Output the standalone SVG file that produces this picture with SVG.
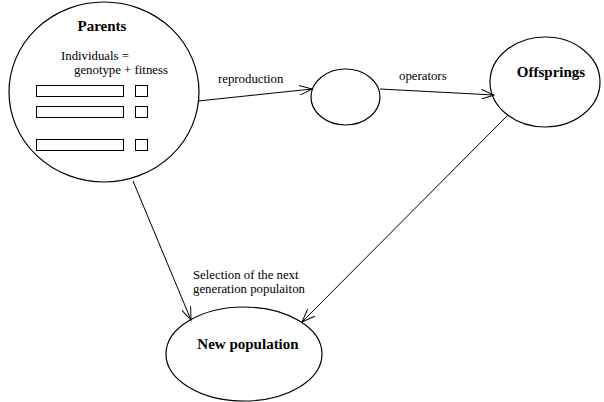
<svg xmlns="http://www.w3.org/2000/svg" width="604" height="402" viewBox="0 0 604 402">
<style>
.n{fill:none;stroke:#000;stroke-width:1.2}
.r{fill:none;stroke:#000;stroke-width:1}
.t{font-family:"Liberation Serif",serif;font-size:12.8px;fill:#000}
.b{font-family:"Liberation Serif",serif;font-size:15px;font-weight:bold;fill:#000}
.c{fill:none;stroke:#000;stroke-width:1}
</style>
<defs>
<marker id="a" viewBox="0 0 14 10" refX="13" refY="5" markerWidth="14" markerHeight="10" markerUnits="userSpaceOnUse" orient="auto">
<path d="M0,0 L13,5 L0,10" fill="none" stroke="#000" stroke-width="1"/>
</marker>
</defs>
<rect width="604" height="402" fill="#fff"/>
<g id="parents">
<ellipse class="n" cx="104" cy="92" rx="95" ry="90"/>
<text class="b" x="102" y="31" text-anchor="middle">Parents</text>
<text class="t" x="61" y="60">Individuals =</text>
<text class="t" x="74" y="74">genotype + fitness</text>
<rect class="r" x="36.5" y="85.5" width="87" height="11"/>
<rect class="r" x="135.5" y="85.5" width="12" height="11"/>
<rect class="r" x="36.5" y="106.5" width="87" height="11"/>
<rect class="r" x="135.5" y="106.5" width="12" height="11"/>
<rect class="r" x="36.5" y="139.5" width="87" height="11"/>
<rect class="r" x="135.5" y="139.5" width="12" height="11"/>
</g>
<g id="operator">
<ellipse class="n" cx="345.5" cy="97" rx="34.5" ry="28"/>
</g>
<g id="offsprings">
<ellipse class="n" cx="545" cy="82" rx="55" ry="45"/>
<text class="b" x="551" y="77" text-anchor="middle">Offsprings</text>
</g>
<g id="newpop">
<ellipse class="n" cx="244" cy="354" rx="78" ry="47"/>
<text class="b" x="248" y="349" text-anchor="middle">New population</text>
</g>
<g id="connectors">
<line class="c" x1="198" y1="101" x2="312" y2="89" marker-end="url(#a)"/>
<text class="t" x="218" y="83">reproduction</text>
<line class="c" x1="380" y1="89" x2="494" y2="95" marker-end="url(#a)"/>
<text class="t" x="399" y="80">operators</text>
<line class="c" x1="133" y1="181" x2="191" y2="320" marker-end="url(#a)"/>
<line class="c" x1="507" y1="116" x2="302" y2="322" marker-end="url(#a)"/>
<text class="t" x="193" y="279">Selection of the next</text>
<text class="t" x="193" y="293">generation populaiton</text>
</g>
</svg>
